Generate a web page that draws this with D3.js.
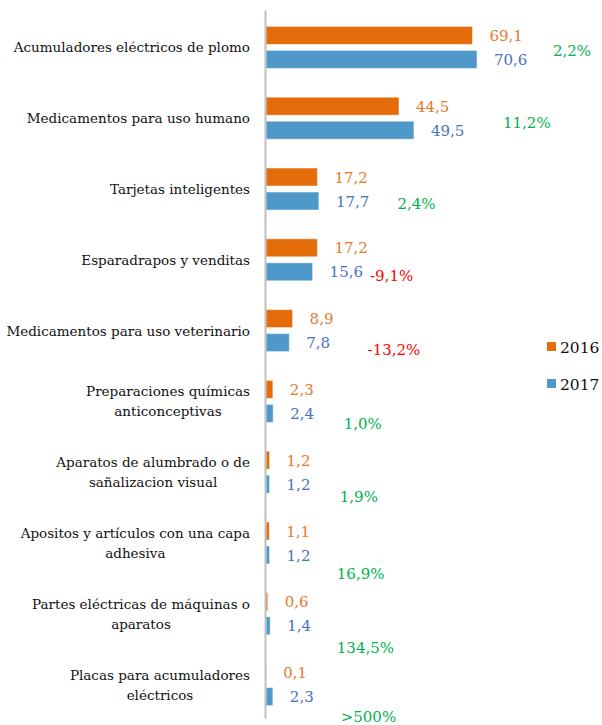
<!DOCTYPE html>
<html>
<head>
<meta charset="utf-8">
<script src="https://cdn.jsdelivr.net/npm/d3@7"></script>
<style>
  body { margin: 0; background: #fff; }
  text { font-family: "DejaVu Serif", serif; }
</style>
</head>
<body>
<div class="canvas"></div>
<script>
// data
const categories = [
  "Acumuladores eléctricos de plomo",
  "Medicamentos para uso humano",
  "Tarjetas inteligentes",
  "Esparadrapos y venditas",
  "Medicamentos para uso veterinario",
  "Preparaciones químicas\nanticonceptivas",
  "Aparatos de alumbrado o de\nsañalizacion visual",
  "Apositos y artículos con una capa\nadhesiva",
  "Partes eléctricas de máquinas o\naparatos",
  "Placas para acumuladores\neléctricos"
]
const years = ["2016", "2017"]
const values2016 = [69.1, 44.5, 17.2, 17.2, 8.9, 2.3, 1.2, 1.1, 0.6, 0.1]
const values2017 = [70.6, 49.5, 17.7, 15.6, 7.8, 2.4, 1.2, 1.2, 1.4, 2.3]
const changeLabels = ["2,2%", "11,2%", "2,4%", "-9,1%", "-13,2%", "1,0%", "1,9%", "16,9%", "134,5%", ">500%"]

// where the hand-placed change labels sit (x in value units, y offset from group center)
const pctAt = [96, 79.3, 44, 34.8, 34, 26, 24.7, 23.7, 23.7, 25]
const pctDy = [2.6, 3.8, 14, 16.2, 19.4, 22.6, 24.8, 30, 34.2, 32]

const width = 602
const height = 725
const colors = { "2016": "#E46C0A", "2017": "#4F98CA" }
const labelColors = { "2016": "#E8772E", "2017": "#4472C4" }

const svg = d3.select(".canvas").append("svg")
    .attr("width", width)
    .attr("height", height)

const x = d3.scaleLinear().domain([0, 70.6]).range([266, 477])
const y = d3.scaleBand().domain(categories).range([12, 720])
const y1 = d3.scaleBand().domain(years).range([-21, 21]).paddingInner(0.25)

const rows = categories.map((c, i) => ({
  cat: c, i: i,
  vals: [{ year: "2016", v: values2016[i] }, { year: "2017", v: values2017[i] }]
}))

const fmt = v => d3.format(".1f")(v).replace(".", ",")

const g = svg.selectAll("g.row")
  .data(rows)
  .enter().append("g")
  .attr("class", "row")
  .attr("transform", d => `translate(0,${y(d.cat) + y.bandwidth() / 2})`)

g.selectAll("rect")
  .data(d => d.vals)
  .enter().append("rect")
  .attr("x", x(0))
  .attr("y", d => y1(d.year))
  .attr("width", d => x(d.v) - x(0))
  .attr("height", y1.bandwidth())
  .style("fill", d => colors[d.year])
  .style("stroke", "#ffffff")
  .style("stroke-opacity", 0.5)
  .style("stroke-width", 1)

g.selectAll("text.val")
  .data(d => d.vals)
  .enter().append("text")
  .attr("class", "val")
  .attr("x", d => x(d.v) + 17)
  .attr("y", d => y1(d.year) + y1.bandwidth() / 2 + 5.5)
  .style("font-size", "15px")
  .style("fill", d => labelColors[d.year])
  .text(d => fmt(d.v))

g.append("text")
  .attr("x", d => x(pctAt[d.i]))
  .attr("y", d => pctDy[d.i] + 5.5)
  .style("font-size", "15px")
  .style("fill", d => changeLabels[d.i].startsWith("-") ? "#FF0000" : "#00B050")
  .text(d => changeLabels[d.i])

// category labels: block right-aligned, lines centered on each other
g.each(function (d) {
  const lines = d.cat.split("\n")
  const sel = d3.select(this)
  const t = sel.selectAll("text.cat")
    .data(lines)
    .enter().append("text")
    .attr("class", "cat")
    .style("font-size", "13.5px")
    .style("fill", "#111")
    .attr("y", (l, k) => (k - (lines.length - 1) / 2) * 20 + 5)
    .text(l => l)
  let maxW = 0
  t.each(function () { maxW = Math.max(maxW, this.getComputedTextLength()) })
  t.attr("text-anchor", "middle").attr("x", 250 - maxW / 2)
})

// axis line
const axis = svg.append("g")
  .attr("transform", `translate(${x(0) - 1},0)`)
  .call(d3.axisLeft(d3.scaleLinear().range([10, 718])).ticks(0).tickSize(0).tickSizeOuter(0))
axis.selectAll("text").remove()
axis.select(".domain").style("stroke", "#BFBFBF").style("stroke-width", 2)

// legend
const legend = svg.selectAll("g.legend")
  .data(years)
  .enter().append("g")
  .attr("class", "legend")
  .attr("transform", (d, i) => `translate(547,${342 + i * 37})`)
legend.append("rect")
  .attr("width", 9).attr("height", 9)
  .style("fill", d => colors[d])
legend.append("text")
  .attr("x", 13).attr("y", 11)
  .style("font-size", "15.5px")
  .style("fill", "#111")
  .text(d => d)
</script>
</body>
</html>
